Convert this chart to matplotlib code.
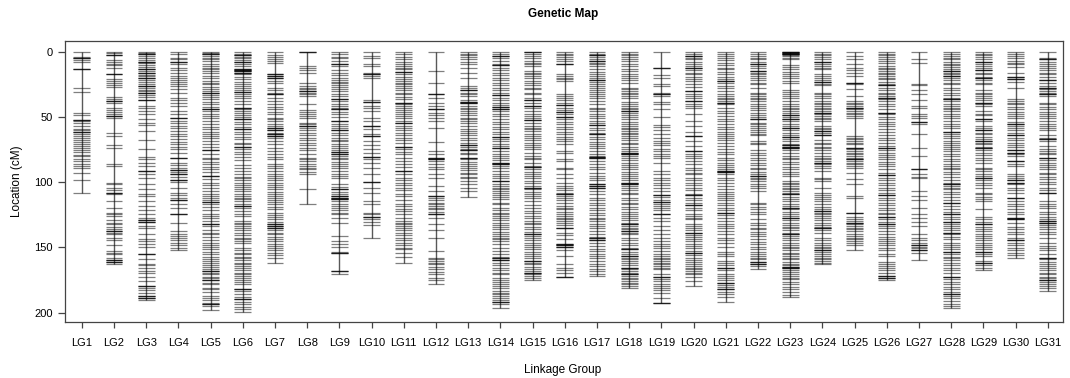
import matplotlib
matplotlib.use("Agg")
import matplotlib.pyplot as plt

plt.rcParams['font.family'] = ['Liberation Sans', 'DejaVu Sans']

# Marker positions (cM) per linkage group; *_dup lists positions where several markers coincide
lg1 = [0, 4, 5, 6.6, 8, 13.5, 28, 31, 47, 48.5, 52, 53, 55, 57, 59, 60, 61.5, 63, 64.6, 66, 67.4, 69, 71, 72,
       73.6, 75, 77, 79, 80, 82, 84, 86, 87.6, 89, 93, 98, 108]
lg1_dup = [5, 13.5, 52, 61.5]
lg2 = [0, 1.3, 2.6, 6.4, 8, 9.2, 10.5, 12.3, 17.4, 20.7, 22.5, 24, 25.5, 26.8, 34.7, 36, 37.8, 39, 43, 44.7, 46,
       47.5, 49.3, 50.6, 62, 64.6, 71.5, 73.6, 85.8, 87.6, 100.4, 101.7, 104.2, 106, 108, 109.3, 114.4, 119.5,
       123.4, 124.6, 126, 129.2, 131, 132.3, 134.4, 136.1, 137.4, 138.7, 140, 142.5, 144.6, 148, 152.7, 154,
       155.3, 158.4, 159.6, 161, 162.4]
lg2_dup = [2.6, 17.4, 37.8, 49.3, 108, 137.4, 159.6, 161]
lg3 = [0, 1, 2, 3, 4.5, 6, 7.7, 9, 10.5, 12, 13.5, 15, 16, 17.5, 19, 20, 21.5, 23, 24.5, 26, 27.5, 29, 30.5, 31.5,
       33, 34.5, 37.3, 41.6, 43, 45.5, 48, 51.9, 55, 56, 60.8, 67.7, 74.3, 80.7, 82.5, 85, 87.6, 91.4, 94, 97,
       101.7, 105.5, 108.8, 110.6, 114.4, 118.3, 121.6, 124.6, 127.2, 129.2, 130.5, 133.6, 134.9, 140, 143.8,
       145, 147.6, 150, 154.8, 159, 162.4, 163.7, 165.5, 168, 169.3, 172.4, 175.7, 179.5, 181.4, 182.9, 184.7,
       187.2, 189, 190.5]
lg3_dup = [2, 7.7, 13.5, 16, 20, 26, 31.5, 37.3, 91.4, 129.2, 130.5, 154.8, 179.5, 187.2, 189]
lg4 = [0, 2, 4.6, 5.9, 8, 9.7, 12.3, 14.3, 16, 18.6, 20.4, 21.7, 23, 25, 26.3, 28.9, 31.4, 35.2, 37.3, 39, 41.6,
       45.5, 47.5, 51, 53, 55, 56.9, 58.7, 60.8, 62.8, 64.6, 67.2, 69.2, 71, 73, 74.8, 77.4, 81.7, 85, 86.8, 88.9,
       90.7, 92.2, 94, 96, 98, 99.9, 104.2, 108, 109.8, 111.9, 113.9, 116.4, 119.5, 124.6, 131, 137.4, 139.4,
       141.2, 143, 144.6, 146.4, 148.2, 150.2, 152.2]
lg4_dup = [8, 51, 81.7, 90.7, 94, 98, 113.9, 124.6]
lg5 = [0, 1, 2, 3.3, 4.6, 5.9, 7.2, 9.2, 11, 12.3, 13.5, 14.8, 16.6, 18.6, 19.9, 22.5, 23.8, 25, 26.8, 28.4, 30.1,
       31.4, 33.2, 34.7, 36.5, 38.6, 40.4, 42.1, 43.7, 45.5, 47.5, 49.3, 51.1, 53.1, 55.7, 57.7, 59.5, 61.3, 62.8,
       64.6, 66.4, 68.5, 71, 73, 75.6, 78.7, 81.2, 82.5, 84.3, 85.8, 88.4, 90.2, 92.2, 95.3, 97.8, 100.4, 102.2,
       104.2, 106.8, 108.8, 110.6, 111.9, 113.7, 114.9, 117, 118.8, 121.6, 124.1, 125.9, 127.7, 129.8, 131.8,
       133.6, 136.9, 138.7, 140, 142, 144.6, 146.4, 148.1, 149.7, 151.5, 153.2, 155.3, 157.3, 159.1, 160.4,
       161.7, 163.5, 165, 166.8, 168.1, 169.3, 170.6, 172.6, 173.6, 175.2, 177, 178.3, 180.8, 182.1, 183.9,
       187.2, 188.5, 190.5, 192.3, 193.6, 194.9, 198.2]
lg5_dup = [2, 31.4, 43.7, 75.6, 95.3, 114.9, 131.8, 168.1, 175.2, 193.6]
lg6 = [0, 1.5, 2.6, 3.8, 5.1, 6.4, 7.7, 9.2, 11, 13, 14, 15.1, 16.1, 17.4, 19.4, 21.2, 23, 24.5, 26.3, 28.1, 29.6,
       30.7, 32.2, 34, 35.8, 37.8, 40.4, 42.9, 44.2, 45.5, 46.7, 48.5, 50.1, 51.9, 53.6, 55.7, 57.7, 59.5, 61.3,
       63.3, 65.4, 67.2, 69.7, 71, 73, 74.8, 76.6, 78.7, 80.7, 83.3, 86.8, 88.9, 91.4, 94, 96, 97, 98.6, 100.4,
       102.2, 103.7, 105.5, 106.8, 108.8, 110.6, 111.9, 113.2, 114.4, 116.5, 118.3, 120, 122.1, 124.1, 125.9,
       129.8, 131, 132.3, 133.6, 135.4, 136.9, 138.7, 140.5, 142.5, 143.8, 145.1, 146.4, 150.7, 152.2, 154,
       155.3, 157.3, 158.4, 159.9, 161.7, 163, 164.2, 165.5, 167.6, 169.3, 170.6, 171.9, 173.2, 175.2, 176.2,
       178.3, 182.1, 183.4, 186, 188, 189.8, 191.6, 193.6, 195.7, 197.4, 199.2]
lg6_dup = [2.6, 7.7, 13, 14, 15.1, 16.1, 30.7, 42.9, 51.9, 59.5, 73, 118.3, 182.1, 189.8]
lg7 = [0, 2.6, 4.1, 5.9, 7.2, 8.4, 17.4, 18.6, 19.9, 22.5, 23.8, 27.6, 29.6, 31.4, 32.7, 35.8, 37.8, 39.8, 42.4,
       44.2, 46, 48, 50.6, 51.9, 53.1, 55.2, 57, 58.7, 60.3, 62, 63.3, 65, 65.9, 68.5, 71, 73.6, 76.1, 78.7, 80.7,
       82.5, 85.8, 87.6, 89.4, 91.4, 93.5, 95.3, 96.6, 98.6, 100.4, 102.2, 103.7, 105.5, 107.3, 109.3, 110.6,
       112.4, 113.9, 114.9, 117, 119, 120.8, 123.4, 125.2, 126.7, 128.5, 130.3, 131.8, 133.6, 135.4, 136.9,
       138.7, 140, 142, 143.8, 145.1, 147.1, 148.9, 150.7, 152.2, 154, 155.8, 157.9, 161.7]
lg7_dup = [17.4, 18.6, 19.9, 32.7, 58.7, 60.3, 63.3, 65, 131.8, 133.6, 135.4]
lg8 = [0, 11, 12.3, 14.3, 16.1, 23.8, 26.3, 27.6, 28.9, 30.1, 31.4, 32.7, 34, 40.4, 44.9, 46.2, 47.5, 49.3, 50.6,
       54.4, 55.7, 57, 58.7, 60.3, 62.1, 63.8, 65.9, 67.9, 69.7, 71.5, 73.6, 75.6, 78.7, 81.2, 82.5, 83.8,
       85.8, 87.6, 88.9, 90.2, 91.9, 94, 105, 116.5]
lg8_dup = [0, 30.1, 57]
lg9 = [0, 2, 4.1, 5.1, 7.2, 9.7, 11, 14.3, 16.1, 18.1, 20.4, 22, 23, 24.3, 25.5, 27.1, 28.9, 30.1, 32.7, 34, 36.5,
       37.8, 40.4, 41.6, 42.9, 44.2, 46, 48, 50.1, 53.1, 55.2, 57, 58.7, 60.3, 62.1, 63.8, 65.9, 67.4, 68.5, 70.5,
       72.3, 74.1, 75.6, 76.9, 78.2, 79.9, 81.2, 82.5, 84.3, 85.8, 87.6, 89.4, 91.4, 93.5, 95.3, 96.6, 101.7,
       103.7, 105.5, 107.3, 109.3, 110.6, 111.9, 113.2, 114.4, 116.5, 118.3, 119.5, 121.6, 123.4, 124.6, 127.2,
       131, 141.2, 145.1, 147.1, 149.7, 153.2, 154.3, 168.1, 170.6]
lg9_dup = [9.7, 36.5, 44.2, 53.1, 60.3, 76.9, 78.2, 105.5, 110.6, 111.9, 113.2, 154.3, 168.1]
lg10 = [0, 3.3, 4.6, 9.7, 11, 16.1, 17.4, 18.6, 19.9, 37.3, 38.3, 41.6, 42.9, 45.5, 50.6, 53.1, 57, 59.5, 63.3,
        64.4, 68.5, 71.5, 74.8, 77.4, 80.7, 82.5, 85, 88.9, 94, 99.9, 104.2, 108, 114.4, 117, 123.4, 124.6,
        126.7, 128.5, 130.3, 132.8, 142.5]
lg10_dup = [17.4, 38.3, 57, 64.4, 80.7, 99.9, 126.7]
lg11 = [0, 2, 4.1, 5.9, 7.7, 9.7, 11, 12.3, 13.5, 15.3, 17.4, 19.4, 21.2, 22.5, 23.8, 25, 26.3, 27.6, 29.6, 31.4,
        32.7, 34.7, 36.5, 39.1, 40.4, 41.6, 42.9, 44.9, 46.2, 48, 49.3, 51.1, 53.1, 54.9, 57, 58.7, 60.3, 62.1,
        63.8, 65.9, 67.9, 69.7, 73, 74.8, 76.6, 78.7, 81.2, 83.8, 85.8, 88.4, 91.4, 93.5, 96.6, 98.6, 100.4,
        102.2, 104.2, 106.2, 108.8, 110.6, 113.9, 116.5, 118.3, 120.8, 122.1, 124.6, 127.2, 129.8, 131, 132.3,
        133.6, 134.9, 136.9, 138.7, 140.5, 142.5, 144.6, 146.4, 148.1, 150.2, 151.5, 154, 157.3, 161.7]
lg11_dup = [15.3, 39.1, 54.9, 73, 91.4]
lg12 = [0, 14.8, 23.8, 32.2, 35.8, 39.1, 41.6, 44.2, 46.7, 48.5, 50.6, 53.1, 58.2, 69, 76.1, 78.7, 81.2, 82.5,
        83.8, 85.8, 88.4, 90.2, 93.5, 96.6, 102.9, 106.8, 110.6, 111.9, 113.9, 115.7, 117, 118.3, 119.5, 120.8,
        122.6, 124.1, 127.2, 131.8, 136.9, 142.5, 152.7, 157.9, 159.1, 160.4, 161.7, 163, 165, 166.8, 168.6,
        170.6, 173.6, 175.2, 177.8]
lg12_dup = [32.2, 44.2, 81.2, 82.5, 110.6, 124.1]
lg13 = [0, 1.5, 2.6, 4.1, 5.9, 7.7, 9.7, 12.3, 16.1, 20.4, 26.3, 27.6, 29.6, 31.4, 32.7, 34, 37.3, 38.6, 39.6,
        41.6, 42.9, 44.2, 45.5, 46.7, 48.5, 50.6, 51.9, 53.1, 54.4, 57, 59.5, 60.8, 62.1, 63.8, 65.9, 67.9, 69.7,
        71.5, 73, 74.8, 75.6, 77.4, 78.7, 81.2, 82.5, 84.3, 85.8, 87.6, 89.4, 90.9, 92.7, 94, 96, 97, 99.1,
        101.7, 104.2, 106.8, 111.4]
lg13_dup = [29.6, 38.6, 39.6, 71.5, 75.6, 81.2]
lg14 = [0, 1.5, 3.3, 5.1, 7.2, 9.2, 10.5, 12.3, 14.3, 16.1, 17.9, 19.9, 22, 23.8, 25.5, 27.6, 29.6, 31.4, 33.2,
        35.2, 37.3, 39.1, 40.9, 42.4, 43.7, 45.5, 47.5, 49.3, 51.9, 53.6, 55.7, 57.7, 59.5, 61.3, 63.3, 65.4,
        67.2, 68.5, 71, 72.3, 74.1, 76.1, 78.2, 79.9, 81.7, 83.3, 85, 86.3, 87.6, 89.4, 91.4, 93.5, 95.3, 97,
        99.1, 101.1, 102.9, 104.2, 105.5, 106.8, 108, 109.8, 111.4, 113.2, 115.7, 117, 119.5, 121.6, 123.4,
        124.6, 125.9, 127.2, 129.2, 131, 132.8, 134.4, 136.1, 137.9, 140, 141.2, 142.5, 143.8, 145.1, 147.6,
        150.2, 152.7, 155.3, 157.3, 158.4, 159.9, 161.7, 163.5, 165.5, 167.6, 169.3, 170.6, 173.6, 175.2,
        176.2, 177.8, 179.6, 181.4, 183.4, 184.7, 186, 187.2, 189, 190.5, 191.6, 193.6, 196.2]
lg14_dup = [3.3, 10.5, 33.2, 42.4, 43.7, 65.4, 74.1, 85, 86.3, 99.1, 158.4, 159.9, 191.6]
lg15 = [0, 1.5, 3.3, 5.1, 7.2, 8.4, 9.7, 11, 14.8, 16.1, 17.4, 18.6, 20.4, 22.5, 23.8, 25.5, 27.6, 28.9, 31.4,
        32.7, 35.2, 37.3, 39.1, 41.6, 42.9, 45.5, 47.5, 49.3, 51.1, 52.3, 54.4, 57, 58.2, 59.5, 60.8, 63.3, 64.6,
        65.9, 67.9, 69.7, 71.5, 73, 74.8, 77.4, 79.9, 81.2, 82.5, 85, 87.6, 88.4, 90.2, 91.9, 93.5, 95.3, 96.6,
        99.1, 100.4, 102.9, 104.2, 105.5, 107.3, 108.8, 110.6, 112.4, 114.4, 117.5, 119.5, 122.1, 123.4, 125.9,
        127.2, 129.8, 131, 132.3, 134.4, 136.1, 137.9, 139.4, 141.2, 142.5, 144.6, 146.4, 148.1, 149.7, 151.5,
        153.2, 154.8, 156.6, 158.4, 160.4, 161.7, 163, 165, 166.8, 168.1, 169.3, 170.6, 171.9, 173.6, 175.2]
lg15_dup = [0, 37.3, 41.6, 52.3, 88.4, 104.2, 139.4, 160.4, 169.3]
lg16 = [0, 1.5, 2.6, 4.1, 5.9, 7.2, 9.2, 17.4, 18.6, 19.9, 21.2, 22.5, 32.7, 34, 35.8, 37.3, 39.1, 40.9, 42.9,
        44.9, 46, 47.5, 50.1, 51.9, 53.6, 55.7, 57.7, 59.5, 61.3, 63.3, 65.4, 67.2, 68.5, 70.5, 76.1, 77.4, 82.5,
        83.8, 88.9, 90.2, 93.5, 96.6, 100.4, 102.9, 104.2, 106.2, 108, 109.3, 110.6, 111.9, 113.9, 115.7, 118.3,
        119.5, 120.8, 122.6, 124.1, 125.9, 127.2, 128.5, 129.8, 131, 132.8, 135.4, 138.7, 140.5, 143.8, 147.1,
        148.1, 149.7, 152.2, 156.6, 163, 165.5, 167.6, 169.3, 172.4]
lg16_dup = [9.2, 40.9, 46, 50.1, 109.3, 135.4, 147.1, 148.1, 149.7, 172.4]
lg17 = [0, 1.5, 2.6, 4.1, 5.9, 7.2, 8.4, 9.7, 11, 13.5, 15.3, 16.9, 18.6, 20.4, 21.7, 23, 25, 26.3, 27.6, 29.6,
        30.7, 32.2, 34, 35.8, 37.8, 40.4, 42.9, 44.2, 45.5, 47.5, 49.3, 50.6, 53.1, 54.4, 56.2, 58.2, 60.3, 62.1,
        63.3, 65.4, 67.2, 69, 71, 72.3, 74.1, 76.1, 78.7, 79.9, 80.7, 81.7, 83.8, 85.8, 88.4, 90.2, 92.7, 95.3,
        97, 98.6, 101.7, 102.9, 104.2, 106.8, 109.3, 111.9, 113.9, 115.7, 117.5, 119.5, 121.6, 123.4, 125.2,
        127.2, 128.5, 129.8, 131.8, 133.6, 135.4, 137.4, 140, 142, 143, 144.6, 146.4, 148.9, 151.5, 152.7,
        154.8, 156.6, 158.4, 160.4, 162.4, 164.2, 166.8, 168.1, 170.1, 171.9]
lg17_dup = [2.6, 7.2, 21.7, 56.2, 63.3, 80.7, 81.7, 101.7, 102.9, 104.2, 143, 144.6]
lg18 = [0, 1.5, 2.6, 4.1, 5.9, 7.2, 9.7, 11, 13.5, 14.8, 16.9, 18.6, 20.4, 22, 23.8, 27.6, 28.9, 30.1, 31.4, 32.7,
        34, 35.8, 38.3, 39.8, 41.6, 42.9, 44.2, 45.5, 46.7, 48.5, 50.1, 51.9, 53.6, 55.7, 57, 58.2, 59.5, 60.8,
        62.1, 63.3, 64.6, 65.9, 67.9, 69.7, 71, 73, 74.8, 76.1, 77.4, 78.7, 79.9, 81.7, 83.3, 85, 86.8, 88.4,
        90.2, 91.9, 94, 95.3, 96.6, 98.6, 100.4, 101.7, 102.9, 104.7, 106.2, 108, 109.3, 111.9, 113.9, 115.7,
        117, 119, 120.8, 122.6, 124.1, 125.9, 127.2, 129.2, 131, 131.8, 133.6, 134.9, 136.1, 137.4, 138.7, 140,
        142.5, 144.6, 146.4, 148.1, 150.2, 151.5, 153.2, 154.8, 156.6, 157.9, 159.1, 160.4, 161.7, 163.5, 165.5,
        166.8, 168.1, 169.3, 170.6, 171.9, 173.2, 174.4, 175.7, 177, 178.3, 179.6, 181.4]
lg18_dup = [45.5, 77.4, 78.7, 100.4, 101.7, 131.8, 137.4, 151.5, 156.6, 165.5, 170.6]
lg19 = [0, 12.3, 17.9, 19.9, 24.5, 26.3, 31.4, 32.7, 34, 38.3, 39.8, 44.2, 50.1, 56.2, 57.7, 60.3, 62.8, 65.9,
        68.5, 69.7, 71.5, 74.8, 76.1, 78.7, 79.9, 81.7, 85, 91.4, 93.5, 96.6, 98.6, 100.4, 102.2, 104.2, 106.8,
        109.8, 111.4, 113.9, 114.9, 116.5, 118.3, 119.5, 121.6, 124.6, 127.2, 129.8, 133.6, 136.9, 140, 143,
        145.1, 147.1, 148.9, 150.7, 152.7, 154.8, 156.6, 157.9, 159.1, 160.4, 161.7, 163, 164.2, 165.5, 166.8,
        170.6, 172.6, 174.4, 175.7, 177.8, 179.6, 181.4, 182.9, 184.7, 188.5, 192.8]
lg19_dup = [12.3, 32.7, 109.8, 114.9, 124.6, 172.6, 192.8]
lg20 = [0, 1.5, 3.3, 4.6, 5.9, 7.7, 9.7, 11, 12.3, 14.3, 16.1, 17.4, 19.4, 21.2, 22.5, 25, 27.1, 30.1, 32.2, 34,
        35.8, 37.8, 39.8, 41.6, 42.9, 47.5, 53.1, 57, 61.3, 64.6, 68.5, 72.3, 76.1, 78.2, 79.9, 81.7, 83.8, 85.8,
        88.9, 90.9, 92.7, 94, 96.6, 98.6, 100.4, 102.2, 104.2, 106.2, 108.8, 109.8, 111.9, 113.9, 115.7, 117.5,
        119.5, 121.6, 124.1, 125.9, 127.2, 128.5, 132.3, 133.6, 135.4, 136.9, 138.7, 140.5, 142, 143.8, 145.1,
        147.1, 148.9, 150.2, 152.7, 154, 155.8, 157.9, 159.9, 160.9, 162.4, 164.2, 165.5, 166.8, 168.1, 169.3,
        170.6, 172.6, 175.7, 179.6]
lg20_dup = [3.3, 12.3, 30.1, 37.8, 64.6, 76.1, 109.8, 117.5, 138.7, 154]
lg21 = [0, 1.5, 3.3, 5.1, 6.6, 8.4, 10.2, 12.3, 13.5, 15.3, 17.4, 19.4, 21.2, 22.5, 23.8, 26.3, 28.1, 30.1, 32.7,
        34, 35.2, 36.5, 37.8, 39.1, 40.4, 42.9, 45.5, 46.7, 49.3, 51.9, 53.1, 55.7, 57.7, 59.5, 61.3, 63.3, 64.6,
        65.9, 67.9, 69.7, 72.3, 74.8, 76.6, 78.7, 81.2, 83.3, 85, 86.8, 88.4, 90.2, 91.4, 92.2, 94, 96.6, 98.6,
        100.4, 102.9, 105.5, 107.3, 109.3, 110.6, 111.9, 113.9, 115.7, 117.5, 119.5, 121.6, 123.4, 125.2, 127.2,
        129.8, 131.8, 133.6, 135.4, 137.4, 139.4, 142.5, 144.6, 146.4, 149.7, 153.2, 154.8, 156.6, 160.4,
        161.7, 163.5, 165.5, 167.6, 170.6, 171.9, 173.6, 175.2, 177, 178.8, 180.3, 182.1, 183.9, 185.9, 188,
        191.6]
lg21_dup = [22.5, 39.1, 91.4, 92.2, 123.4, 165.5, 177, 182.1]
lg22 = [0, 1.5, 3.3, 4.6, 5.9, 7.7, 9.2, 11, 12.8, 14.8, 16.1, 17.4, 18.6, 20.4, 22, 23.8, 25, 27.6, 31.4, 32.7,
        34, 35.2, 36.5, 37.8, 39.8, 41.6, 42.9, 44.9, 46.7, 48.5, 50.1, 51.9, 54.4, 55.7, 57, 58.7, 60.3, 61.3,
        62.8, 63.8, 68.5, 69.7, 71, 75.6, 77.4, 79.2, 81.2, 83.3, 85, 86.8, 88.9, 90.2, 91.9, 94, 95.3, 96.6,
        97.8, 99.1, 101.1, 102.9, 104.7, 106.8, 115.7, 117, 119, 120.8, 122.6, 124.6, 128.5, 131, 132.8, 134.9,
        136.1, 137.9, 139.4, 141.2, 143.8, 145.6, 147.6, 149.7, 151.5, 153.2, 154.8, 156.6, 157.9, 159.1, 160.9,
        162.4, 164.2, 166.8]
lg22_dup = [9.2, 14.8, 51.9, 95.3, 160.9, 162.4]
lg23 = [0, 0.5, 1, 1.5, 2, 2.5, 3.3, 4.6, 5.9, 10.2, 11.7, 13.5, 15.3, 16.9, 18.6, 20.4, 22.5, 23.8, 29.6, 30.7,
        32.2, 34, 35.8, 37.8, 39.8, 41.6, 42.9, 44.2, 45.5, 46.7, 48.5, 50.1, 51.9, 53.1, 55.2, 57, 58.7, 60.3,
        62.1, 63.8, 65.4, 67.2, 68.5, 70.5, 71.5, 73, 74.1, 75.6, 77.4, 79.9, 81.2, 82.5, 84.3, 86.3, 88.4, 90.2,
        91.9, 94, 95.3, 99.1, 100.4, 101.7, 102.9, 104.2, 105.5, 106.8, 108, 109.3, 111.4, 113.2, 114.4, 116.5,
        118.3, 119.5, 120.8, 122.6, 124.6, 125.9, 127.2, 129.2, 131, 132.8, 134.4, 135.4, 136.9, 138.7, 140,
        141.2, 143, 144.6, 146.4, 148.1, 149.7, 150.7, 152.2, 154, 155.3, 156.6, 157.9, 159.1, 160.9, 162.4,
        163.5, 165, 166, 167.6, 168.6, 170.1, 171.9, 173.2, 174.4, 176.2, 178.3, 180.3, 182.1, 183.9, 186.5, 188]
lg23_dup = [0, 1, 2, 48.5, 51.9, 58.7, 65.4, 71.5, 73, 74.1, 109.3, 119.5, 127.2, 140, 165, 166]
lg24 = [0, 1.5, 2.6, 4.1, 5.9, 7.7, 9.7, 11, 12.3, 13.5, 17.4, 18.6, 20.4, 22, 23, 24.5, 25.5, 31.4, 32.7, 34,
        35.2, 37.8, 39.1, 40.4, 41.6, 42.9, 44.2, 45.5, 46.7, 48, 49.3, 50.6, 51.9, 53.1, 57, 58.2, 59.5, 60.8,
        62.1, 63.8, 67.9, 69.7, 71, 73, 74.1, 75.6, 77.4, 79.9, 81.2, 82.5, 83.8, 85, 86.3, 87.6, 89.4, 91.4,
        96.6, 97.8, 99.1, 104.2, 108, 109.8, 111.4, 113.2, 114.4, 117, 119, 120.8, 122.1, 123.4, 124.6, 125.9,
        127.2, 129.2, 131, 132.8, 134.4, 135.4, 136.9, 138.7, 142.5, 144.6, 146.4, 148.1, 149.7, 150.7, 152.2,
        153.2, 154.8, 156.6, 157.9, 159.1, 160.4, 161.7, 163]
lg24_dup = [7.7, 23, 46.7, 60.8, 63.8, 85, 122.1, 135.4, 152.2]
lg25 = [0, 3.3, 5.9, 9.7, 12.3, 14.3, 16.1, 18.6, 23.8, 25, 28.9, 34, 37.8, 39.1, 40.4, 41.6, 42.9, 44.2, 45.5,
        46.7, 48, 49.3, 51.1, 64.6, 65.9, 67.2, 68.5, 69.7, 71, 73.6, 74.8, 76.1, 77.4, 78.7, 79.9, 81.2, 82.5,
        83.8, 85, 86.3, 87.6, 88.9, 92.7, 97.8, 101.7, 110.6, 111.9, 123.4, 126.7, 128.5, 129.8, 131, 132.3,
        133.6, 134.9, 136.1, 137.4, 139.4, 141.2, 142.5, 143.8, 145.1, 146.4, 148.1, 152.2]
lg25_dup = [23.8, 42.9, 73.6, 82.5, 123.4, 131]
lg26 = [0, 1.5, 2.6, 4.1, 5.9, 7.2, 8.4, 11, 12.3, 13.5, 14.8, 16.1, 17.4, 18.6, 19.9, 21.2, 23, 24.5, 25.8, 27.6,
        29.6, 31.4, 32.7, 34, 35.2, 36.5, 37.8, 40.4, 41.6, 44.2, 46.7, 48, 50.1, 51.9, 53.6, 55.7, 57, 59.5,
        61.3, 63.8, 65.9, 67.9, 69.7, 72.3, 73.6, 75.6, 77.4, 79.2, 80.7, 82.5, 84.3, 85.8, 87.6, 90.2, 92.7,
        94.5, 96.6, 98.6, 100.4, 102.2, 104.2, 106.2, 108, 109.8, 111.9, 113.9, 115.7, 117.5, 119.5, 121.6,
        123.4, 124.6, 126.7, 128.5, 130.3, 131.8, 133.6, 134.9, 137.4, 140, 142, 143.8, 145.1, 146.4, 148.1,
        150.2, 152.2, 154.8, 156.6, 160.9, 162.4, 164.2, 165.5, 167.6, 169.3, 171.9, 173.2, 175.2]
lg26_dup = [25.8, 35.2, 46.7, 73.6, 94.5, 109.8, 126.7, 131.8, 171.9, 173.2]
lg27 = [0, 5.9, 8.4, 24.5, 25.5, 29.6, 32.7, 37.3, 41.6, 42.9, 48, 49.3, 51.1, 53.6, 55.2, 63.3, 73.6, 79.9, 90.2,
        94, 96, 97, 106.8, 110.6, 113.9, 119.5, 124.1, 127.2, 130.3, 133.6, 140, 142.5, 144.6, 146.4, 148.1,
        149.7, 150.7, 152.2, 154, 159.9]
lg27_dup = [53.6, 90.2, 148.1, 152.2]
lg28 = [0, 1.5, 3.3, 4.6, 5.9, 7.7, 9.2, 10.2, 11.7, 13.5, 14.8, 16.1, 17.4, 18.6, 19.9, 22, 23.8, 25, 27.6, 29.6,
        31.4, 33.2, 35.2, 36.5, 37.8, 40.4, 41.6, 42.9, 44.2, 45.5, 47.5, 49.3, 51.1, 53.1, 55.2, 57, 58.7, 61.3,
        63.3, 64.6, 66.4, 68.5, 69.7, 71.5, 73, 74.8, 76.1, 78.2, 79.9, 82.5, 83.8, 85.8, 87.6, 88.9, 90.2, 91.9,
        94, 96, 98.6, 100.4, 101.7, 102.9, 104.2, 105.5, 107.3, 109.3, 111.4, 113.9, 115.7, 118.3, 120.8, 122.6,
        124.6, 126.7, 128.5, 130.3, 132.3, 133.6, 135.4, 136.9, 138.7, 140, 142, 143.8, 146.4, 148.1, 149.7,
        151.5, 153.2, 155.3, 157.3, 158.4, 159.9, 161.7, 163.5, 165.5, 167.6, 169.3, 172.6, 174.4, 176.2, 178.3,
        180.3, 182.1, 183.9, 185.9, 187.2, 189, 191.1, 193.1, 194.9, 196.7]
lg28_dup = [14.8, 18.6, 36.5, 61.3, 101.7, 115.7, 124.6, 130.3, 138.7, 153.2, 172.6, 185.9]
lg29 = [0, 1.5, 2.6, 4.1, 5.9, 7.7, 9.2, 11, 12.8, 14.3, 16.1, 17.4, 19.4, 20.4, 22, 23.8, 25, 29.6, 31.4, 32.7,
        34, 35.8, 37.3, 39.1, 40.4, 41.6, 45.5, 47.5, 48.5, 51.9, 53.1, 57, 58.7, 60.3, 62.1, 63.3, 65.4, 67.2,
        68.5, 69.7, 71, 73, 74.1, 75.6, 77.4, 79.2, 81.2, 83.3, 85, 88.9, 90.2, 91.4, 93.5, 95.3, 97, 98.6,
        100.4, 102.2, 104.2, 108, 109.3, 111.4, 113.2, 114.4, 120.8, 126.7, 128.5, 130.3, 132.3, 134.4, 136.1,
        137.4, 139.4, 141.2, 142.5, 144.6, 146.4, 148.1, 149.7, 151.5, 153.2, 154.8, 156.6, 160.4, 161.7, 163.5,
        165.5, 167.6]
lg29_dup = [7.7, 14.3, 20.4, 39.1, 51.9, 60.3, 68.5, 74.1, 97, 132.3, 153.2, 161.7]
lg30 = [0, 1.5, 3.3, 5.1, 7.2, 8.4, 9.7, 11.7, 16.1, 19.4, 21.2, 23, 27.6, 36.5, 37.8, 39.1, 40.4, 42.4, 44.2, 46,
        47.5, 49.3, 51.1, 53.6, 55.2, 57, 58.7, 60.3, 62.1, 63.8, 65.9, 67.9, 69.7, 71.5, 73, 75.6, 77.4, 78.7,
        79.9, 83.8, 86.3, 87.6, 94, 95.3, 96.6, 98.6, 100.4, 101.7, 104.2, 106.2, 108, 111.9, 114.4, 116.5, 118.3,
        120.8, 122.6, 124.6, 127.2, 128.5, 131, 134.4, 136.1, 137.9, 140, 142.5, 144.6, 146.4, 148.1, 150.2,
        152.2, 154, 155.8, 158.4]
lg30_dup = [19.4, 21.2, 55.2, 63.8, 75.6, 77.4, 83.8, 98.6, 100.4, 111.9, 127.2, 128.5, 144.6]
lg31 = [0, 4.6, 5.9, 7.7, 9.7, 11, 12.3, 14.3, 16.1, 17.4, 19.4, 22, 23.8, 26.3, 27.6, 28.9, 30.1, 31.4, 32.7, 34,
        39.1, 40.4, 42.4, 44.2, 46, 47.5, 49.3, 51.1, 53.1, 55.2, 57, 58.7, 60.3, 63.8, 65.9, 67.2, 68.5, 72.3,
        74.8, 76.1, 77.4, 78.7, 81.7, 83.3, 85, 86.8, 88.4, 90.2, 92.7, 94, 96, 97.8, 99.6, 101.7, 104.2, 106.2,
        108, 114.4, 116.5, 118.3, 119.5, 122.6, 124.6, 126.7, 128.5, 129.8, 131, 132.8, 134.4, 136.1, 137.9,
        140, 142.5, 146.4, 148.9, 150.2, 152.2, 155.3, 157.9, 159.1, 160.9, 162.4, 164.2, 165.5, 167.6, 169.3,
        170.6, 172.6, 173.6, 175.2, 176.2, 177.8, 179.6, 181.4, 183.4]
lg31_dup = [5.9, 22, 27.6, 32.7, 67.2, 81.7, 108, 129.8, 131, 157.9, 175.2]

groups = [lg1, lg2, lg3, lg4, lg5, lg6, lg7, lg8, lg9, lg10, lg11, lg12, lg13, lg14, lg15, lg16,
          lg17, lg18, lg19, lg20, lg21, lg22, lg23, lg24, lg25, lg26, lg27, lg28, lg29, lg30, lg31]
dups = [lg1_dup, lg2_dup, lg3_dup, lg4_dup, lg5_dup, lg6_dup, lg7_dup, lg8_dup, lg9_dup, lg10_dup,
        lg11_dup, lg12_dup, lg13_dup, lg14_dup, lg15_dup, lg16_dup, lg17_dup, lg18_dup, lg19_dup, lg20_dup,
        lg21_dup, lg22_dup, lg23_dup, lg24_dup, lg25_dup, lg26_dup, lg27_dup, lg28_dup, lg29_dup, lg30_dup,
        lg31_dup]
labels = ["LG%d" % (i + 1) for i in range(len(groups))]

W, H = 1070, 378
fig = plt.figure(figsize=(W / 100, H / 100), dpi=100)
ax = fig.add_axes([65 / W, 1 - 322 / H, 998 / W, 281 / H])

hw = 0.26
for i, (pos, dup) in enumerate(zip(groups, dups)):
    x = i + 1
    ax.vlines(x, min(pos), max(pos), color='black', alpha=0.65, lw=1.0)
    allpos = list(pos) + list(dup) * 2
    ax.hlines(allpos, x - hw, x + hw, color='black', alpha=0.5, lw=0.9)

ax.set_xlim(0.48, 31.47)
ax.set_ylim(207.2, -8.2)
ax.set_xticks(range(1, len(groups) + 1))
ax.set_xticklabels(labels, fontsize=8)
ax.set_yticks([0, 50, 100, 150, 200])
ax.tick_params(axis='y', labelsize=8, length=5, width=0.9, color='#444444', pad=4)
ax.tick_params(axis='x', length=4.5, width=0.9, color='#444444', pad=7)
for s in ax.spines.values():
    s.set_color('#444444')
    s.set_linewidth(0.9)
fig.text(563 / W, 1 - 370 / H, "Linkage Group", ha='center', va='center', fontsize=8.5)
fig.text(17 / W, 1 - 181 / H, "Location (cM)", ha='center', va='center', rotation=90, fontsize=8.5)
fig.text(563 / W, 1 - 14 / H, "Genetic Map", ha='center', va='center', fontsize=8.5, fontweight='bold')

fig.savefig("out.png", dpi=100)
